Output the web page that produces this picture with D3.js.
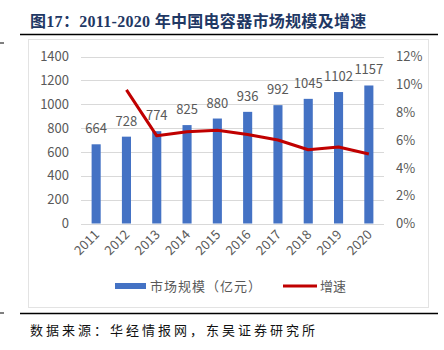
<!DOCTYPE html>
<html>
<head>
<meta charset="utf-8">
<script src="https://cdn.jsdelivr.net/npm/d3@7"></script>
<style>
  html, body { margin: 0; padding: 0; background: #fff; }
  svg { display: block; }
</style>
</head>
<body>
<svg id="chart" width="444" height="350"></svg>
<script>
// Chart data
const years = ["2011", "2012", "2013", "2014", "2015", "2016", "2017", "2018", "2019", "2020"];
const marketSize = [664, 728, 774, 825, 880, 936, 992, 1045, 1102, 1157];
const growthRate = [null, 9.6, 6.3, 6.6, 6.7, 6.4, 6.0, 5.3, 5.5, 5.0];
const leftTicks = [0, 200, 400, 600, 800, 1000, 1200, 1400];
const rightTicks = [0, 2, 4, 6, 8, 10, 12];

const titleText = "图17：2011-2020 年中国电容器市场规模及增速";
const sourceText = "数据来源：华经情报网，东吴证券研究所";
const legendBar = "市场规模（亿元）";
const legendLine = "增速";

const svg = d3.select("#chart");
const sans = "'Noto Sans CJK SC', 'Liberation Sans', sans-serif";
const serif = "'Liberation Serif', 'Noto Sans CJK SC', serif";

// Title and rules
svg.append("text")
  .attr("x", 30).attr("y", 27)
  .attr("font-family", serif).attr("font-weight", "bold")
  .attr("font-size", 16).attr("fill", "#1f3864")
  .attr("letter-spacing", 0.3)
  .text(titleText);
svg.append("line").attr("x1", 20).attr("x2", 438).attr("y1", 34.5).attr("y2", 34.5)
  .attr("stroke", "#000").attr("stroke-width", 1.5);
svg.append("line").attr("x1", 0).attr("x2", 4).attr("y1", 43).attr("y2", 43)
  .attr("stroke", "#000").attr("stroke-width", 1);

// Chart frame
svg.append("rect").attr("x", 28.5).attr("y", 39.5).attr("width", 400).attr("height", 268)
  .attr("fill", "none").attr("stroke", "#e3e3e3").attr("stroke-width", 1);

// Bottom rule and source
svg.append("line").attr("x1", 20).attr("x2", 438).attr("y1", 313.5).attr("y2", 313.5)
  .attr("stroke", "#000").attr("stroke-width", 1.5);
svg.append("line").attr("x1", 0).attr("x2", 4).attr("y1", 313).attr("y2", 313)
  .attr("stroke", "#000").attr("stroke-width", 1);
svg.append("text")
  .attr("x", 30).attr("y", 335)
  .attr("font-family", sans).attr("font-size", 13)
  .attr("letter-spacing", 3).attr("fill", "#111")
  .text(sourceText);

// Scales
const x = d3.scaleBand().domain(years).range([81, 384]).paddingInner(0.7).paddingOuter(0.35);
const yL = d3.scaleLinear().domain([0, 1400]).range([223.5, 56.5]);
const yR = d3.scaleLinear().domain([0, 12]).range([223.5, 56.5]);

// Gridlines
svg.append("g").selectAll("line").data(leftTicks).join("line")
  .attr("x1", 81).attr("x2", 384)
  .attr("y1", d => Math.round(yL(d)) + 0.5).attr("y2", d => Math.round(yL(d)) + 0.5)
  .attr("stroke", "#d9d9d9").attr("stroke-width", 1);

// Left axis
const leftAxis = svg.append("g").attr("transform", "translate(81,0)")
  .call(d3.axisLeft(yL).tickValues(leftTicks).tickSize(0).tickPadding(12).tickFormat(d => String(d)));
leftAxis.select(".domain").remove();
leftAxis.selectAll("text").attr("font-family", sans).attr("font-size", 13).attr("fill", "#595959");

// Right axis
const rightAxis = svg.append("g").attr("transform", "translate(384,0)")
  .call(d3.axisRight(yR).tickValues(rightTicks).tickSize(0).tickPadding(12).tickFormat(d => d + "%"));
rightAxis.select(".domain").remove();
rightAxis.selectAll("text").attr("font-family", sans).attr("font-size", 13).attr("fill", "#595959");

// Bars
svg.append("g").selectAll("rect").data(marketSize).join("rect")
  .attr("x", (d, i) => x(years[i]))
  .attr("width", x.bandwidth())
  .attr("y", d => yL(d))
  .attr("height", d => yL(0) - yL(d))
  .attr("fill", "#4472c4");

// Bar value labels
svg.append("g").selectAll("text").data(marketSize).join("text")
  .attr("x", (d, i) => x(years[i]) + x.bandwidth() / 2)
  .attr("y", d => yL(d) - 11)
  .attr("text-anchor", "middle")
  .attr("font-family", sans).attr("font-size", 13).attr("fill", "#595959")
  .text(d => d);

// Growth line
const line = d3.line()
  .defined(d => d.v != null)
  .x(d => x(d.year) + x.bandwidth() / 2)
  .y(d => yR(d.v));
svg.append("path")
  .datum(years.map((yr, i) => ({ year: yr, v: growthRate[i] })))
  .attr("d", line)
  .attr("fill", "none").attr("stroke", "#c00000").attr("stroke-width", 3)
  .attr("stroke-linejoin", "round");

// X axis labels (rotated)
const xAxis = svg.append("g").attr("transform", "translate(0,223.5)")
  .call(d3.axisBottom(x).tickSize(0).tickPadding(0));
xAxis.select(".domain").remove();
xAxis.selectAll("text")
  .attr("font-family", sans).attr("font-size", 13).attr("fill", "#595959")
  .attr("text-anchor", "end")
  .attr("dy", 0)
  .attr("transform", "translate(4,12) rotate(-45)");

// Legend
const legend = svg.append("g");
legend.append("rect").attr("x", 115).attr("y", 283).attr("width", 31).attr("height", 6).attr("fill", "#4472c4");
legend.append("text").attr("x", 150).attr("y", 291)
  .attr("font-family", sans).attr("font-size", 13).attr("fill", "#595959")
  .attr("letter-spacing", 1).text(legendBar);
legend.append("line").attr("x1", 283).attr("x2", 317).attr("y1", 286).attr("y2", 286)
  .attr("stroke", "#c00000").attr("stroke-width", 3);
legend.append("text").attr("x", 320).attr("y", 291)
  .attr("font-family", sans).attr("font-size", 13).attr("fill", "#595959").text(legendLine);
</script>
</body>
</html>
